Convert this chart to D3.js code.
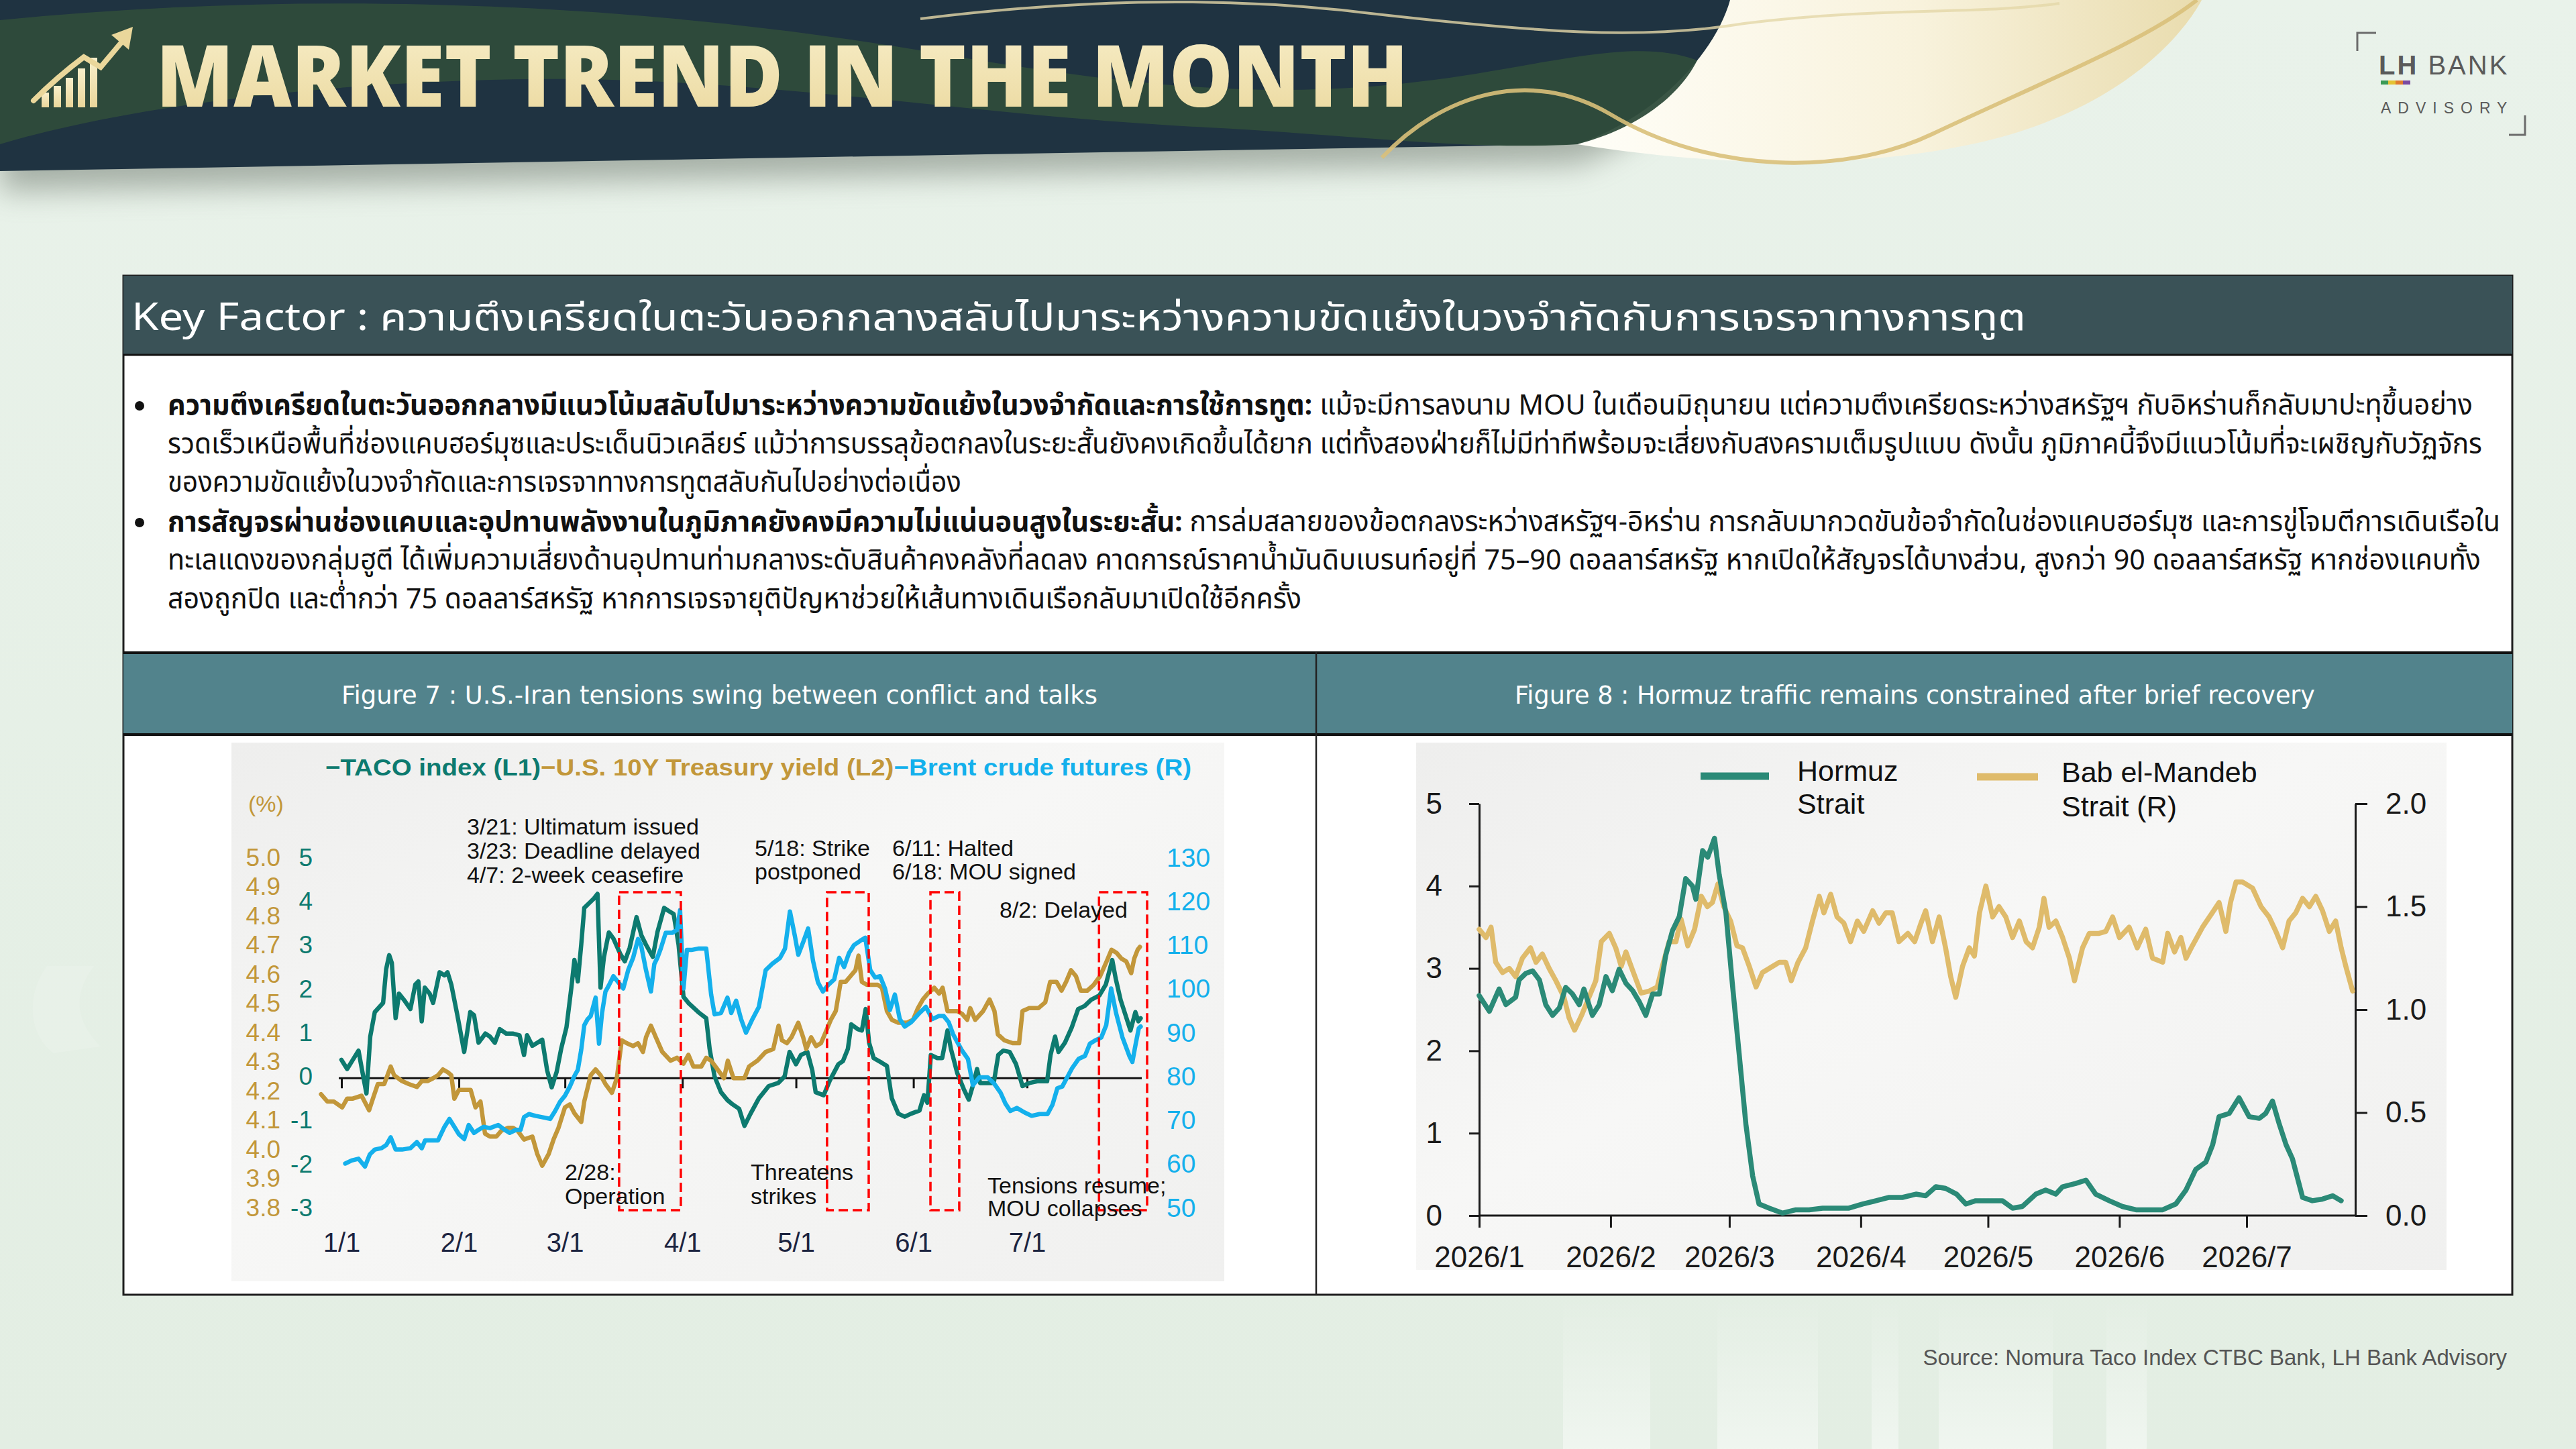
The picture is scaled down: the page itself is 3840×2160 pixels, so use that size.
<!DOCTYPE html>
<html><head><meta charset="utf-8">
<script src="https://cdn.jsdelivr.net/npm/d3@7/dist/d3.min.js"></script>
<style>
html,body{margin:0;padding:0;background:#e7f0e7;overflow:hidden;}
svg{display:block;}
</style></head><body>
<svg id="c" width="3840" height="2160"></svg>
<script>
// ---------------- DATA ----------------
// Figure 7 (day offsets from 2026-01-01)
const fig7MonthLabels = ["1/1","2/1","3/1","4/1","5/1","6/1","7/1"];
const l1Ticks = [5,4,3,2,1,0,-1,-2,-3];
const l2Ticks = [5.0,4.9,4.8,4.7,4.6,4.5,4.4,4.3,4.2,4.1,4.0,3.9,3.8];
const rTicks = [130,120,110,100,90,80,70,60,50];

const tacoDay = [0,1.5,3,4.5,5.3,6.6,7.6,8.8,11,11.8,12.6,13.3,14.3,15.2,16.5,18.2,19.5,20.3,21.2,22,23.3,24.2,25.9,27.2,28,29,30.6,32.4,34,35,36.2,38,39.2,40.5,41.8,43.5,45.2,47,48.2,49,50.4,51.7,53,54.3,55.5,56.8,58,59.4,60.7,61.5,62.4,63.3,64.1,65.4,66.7,67.6,68.4,69.3,70.6,71.8,73.6,74.8,76.1,77.9,79.2,80.4,82.2,83.4,85.2,86.4,87.7,89,90.3,91.6,94.2,96.3,97.2,98.5,100.2,101.9,103.3,105,106.4,108,110.2,112.8,115.3,117,118.3,120,121.3,123,124.3,125.2,127.3,129,131.2,132.4,133.7,134.6,136.3,137.4,138.4,139.3,140.5,142.7,144,145.3,147,148.7,150.4,152.6,153.8,154.7,155.6,157.3,158.6,160,160.9,162.6,164.3,165.6,166.9,167.8,168.6,170.4,172.2,173.4,174.7,176.4,178.1,179.8,181.6,183.7,186.3,187.2,188.4,189.3,191,192.8,194.5,196.2,197.9,200.1,201.8,203.5,204.4,205.7,207,208.3,209.6,210.4,211];
const tacoVal = [0.42,0.21,0.42,0.63,0.25,-0.35,0.95,1.51,1.72,2.49,2.81,2.63,1.37,1.93,1.79,1.58,2.14,2.21,1.30,2.07,1.93,1.72,2.42,2.35,2.42,2.14,1.44,0.60,1.51,1.44,0.81,1.02,0.95,0.81,1.12,1.02,1.02,0.98,0.53,0.98,0.74,0.81,0.88,0.18,-0.21,0.14,0.67,1.16,2.07,2.70,2.21,3.05,3.89,4.00,4.11,4.21,2.07,2.77,3.33,3.19,2.84,2.67,2.98,3.68,3.26,3.05,2.77,3.33,3.89,3.82,3.75,3.05,1.86,1.72,1.51,1.37,0.67,0.04,-0.32,-0.50,-0.60,-0.70,-1.09,-0.81,-0.46,-0.18,-0.11,0.04,0.60,0.32,0.53,0.60,0.18,-0.32,-0.39,-0.04,0.32,0.39,0.67,1.23,1.12,1.09,1.58,0.81,0.46,0.35,0.28,-0.46,-0.81,-0.88,-0.81,-0.74,-0.39,-0.56,0.53,0.46,0.46,1.09,0.67,0.11,-0.25,-0.49,-0.11,0.21,-0.11,-0.11,-0.11,0.53,0.63,0.60,0.32,-0.18,-0.11,-0.07,-0.07,0.53,0.95,0.60,0.81,1.16,1.58,1.65,1.79,1.89,2.14,2.70,2.28,1.79,1.44,1.09,1.51,1.30,1.37];

const yieldDay = [-5.4,-3.7,-2,0.2,1.5,3,5.3,7.3,8.3,9.6,11.3,13,13.9,16,17.8,19.9,21.2,22.7,24.2,25.5,26.8,28.1,29,29.8,31,32.8,34.1,35.4,36.7,37.9,39.2,40.9,42.2,44,45.3,46.5,48.2,50.4,51.7,53,54.7,56,57.3,59,60.3,61.5,63.3,64.1,65.8,67.1,68.4,69.7,71.4,72.7,74,75.3,77,78.3,79.6,80.4,81.7,83,84.7,86.9,88.6,90.3,91.6,92.9,95,96.3,97.6,99.3,101,102,103.5,106.4,107.6,109.8,112,114,115.4,116.3,117.6,118.8,120.6,121.9,122.7,124,125.3,126.6,127.9,129.2,130.5,131.8,133.1,134.4,135.7,136.5,137.4,138.7,140.4,141.6,142.7,144,145.3,147,149.2,150.9,152.2,153.5,154.8,156.5,157.8,158.7,160,161.3,162.6,163.9,165.2,166,167.3,169.4,171.1,172.4,173.3,175,177.2,178.9,179.8,181.5,184,185.8,187.1,188.8,190.1,191.3,192.6,193.9,195.2,196.9,198.6,200.3,202,203.3,204.6,205.9,207.2,208.5,209.3,210.2,210.8];
const yieldVal = [4.195,4.17,4.17,4.15,4.18,4.18,4.19,4.14,4.18,4.23,4.23,4.29,4.26,4.24,4.23,4.22,4.24,4.24,4.25,4.26,4.28,4.27,4.26,4.18,4.21,4.21,4.21,4.15,4.17,4.06,4.05,4.05,4.07,4.08,4.08,4.07,4.04,4.05,3.99,3.95,3.99,4.04,4.08,4.15,4.16,4.13,4.10,4.17,4.26,4.28,4.26,4.23,4.20,4.25,4.38,4.37,4.36,4.37,4.34,4.39,4.43,4.39,4.34,4.31,4.32,4.30,4.33,4.29,4.29,4.32,4.31,4.28,4.25,4.31,4.25,4.25,4.29,4.31,4.34,4.35,4.43,4.38,4.37,4.39,4.44,4.39,4.35,4.39,4.36,4.37,4.41,4.45,4.48,4.58,4.58,4.60,4.62,4.67,4.58,4.57,4.57,4.57,4.56,4.48,4.45,4.44,4.44,4.45,4.49,4.52,4.54,4.56,4.54,4.56,4.48,4.48,4.48,4.47,4.45,4.49,4.45,4.48,4.52,4.48,4.40,4.38,4.37,4.37,4.48,4.49,4.49,4.51,4.58,4.58,4.55,4.58,4.62,4.60,4.55,4.55,4.57,4.60,4.65,4.69,4.68,4.66,4.65,4.61,4.66,4.69,4.70];

const brentDay = [1,2.7,4.5,6.2,7.5,8.8,10.5,11.8,13,14.3,16,18.2,19.9,21.2,22.1,23.8,25.5,27.2,28.5,29.8,31,32.4,33.6,35,36.2,37.5,39.2,41.4,43.1,44.4,46.1,47.3,48.2,49.5,51.2,53,55.1,56.4,57.7,59,60.3,61.5,62.4,63.3,64.1,65,65.8,67.1,68,68.8,69.7,70.6,71.8,73.1,74.4,75.7,77,78.3,79.1,80.4,81.7,82.6,83.4,84.3,85.6,87.3,88.6,89.4,90.3,91.2,92.4,94.2,96.3,97.6,98.5,100.2,101.9,102.9,104.2,105.5,106.8,108.5,110.2,112,113.7,115.8,117.1,118.4,119.7,120.6,121.9,123.2,124.5,125.8,127.1,128.4,130.1,131.4,132.7,134,135.3,137,138.3,139.6,140.9,142.2,143.5,144.8,146.1,147.4,148.7,150.4,152.6,154.3,156,157.7,159,160.3,161.5,163.7,165.4,166.7,168.4,170.6,172.3,174,175.3,176.6,178.3,180.5,182.2,184.3,186.4,187.7,189,190.3,191.6,192.9,194.6,196.3,197.6,198.9,200.6,201.9,203.2,204.5,206.2,208,208.8,209.7,210.5,211];
const brentVal = [60.5,61.2,61.6,59.8,62.6,63.7,64.0,64.7,66.5,63.7,63.7,64.0,65.4,64.0,65.8,65.8,65.8,68.9,70.7,68.9,67.2,66.1,69.3,67.5,68.2,68.9,68.6,69.3,68.2,67.5,68.2,68.2,71.1,71.8,71.4,71.1,70.7,72.5,74.6,76.0,78.1,80.5,81.9,86.5,92.1,93.5,94.2,98.4,87.9,94.9,99.8,101.2,103.3,101.9,100.5,104.7,107.5,111.8,110.4,104.7,99.8,106.1,107.5,109.6,113.2,113.2,113.9,118.4,100.5,109.3,109.3,109.6,109.6,99.1,94.6,94.9,98.4,94.9,97.7,93.5,90.4,93.5,96.3,104.7,106.1,107.5,109.6,118.1,112.5,108.2,111.1,114.2,106.8,101.9,99.8,101.2,102.6,107.5,105.4,108.6,110.4,111.4,112.1,104.7,103.0,103.3,100.5,95.6,99.1,93.5,91.8,92.8,94.9,96.3,93.5,94.2,94.2,92.8,90.0,86.5,84.4,78.4,80.2,80.2,78.8,76.7,74.2,72.5,73.2,72.1,71.4,71.8,71.8,73.9,77.7,78.1,80.2,82.3,84.4,85.1,87.9,88.6,89.3,92.1,100.5,94.9,89.3,85.1,83.7,87.9,91.4,91.8];

// highlighted periods (day offsets)
const boxStart = [73.3,128.2,155.5,200];
const boxEnd = [89.6,139.2,163.1,212.7];

// Figure 8
const fig8MonthLabels = ["2026/1","2026/2","2026/3","2026/4","2026/5","2026/6","2026/7"];
const hormuzTicks = [0,1,2,3,4,5];
const babTicks = [0,0.5,1.0,1.5,2.0];
const hormuzDay = [0,2.4,4.7,6.3,8.6,9.4,11,12.6,14.2,15.7,17.3,18.9,20.4,22,23.6,24.7,26.7,28.3,29.9,31.4,33,34.6,36.2,37.7,39.3,40.9,42.5,44,45.6,47.2,48.7,50.3,51.1,52.7,53.9,55.5,56.6,58.2,59.7,61.3,62.9,64.5,66,68.4,71.5,74.7,77.8,81,84,87.2,90.4,93.6,96.7,99.8,103,105.3,107.7,110,112.6,114.8,117.1,120.3,123.4,125.8,128.1,131.3,133.6,136,137.6,140.7,143.1,145.4,148.6,151.7,154.9,158,161.2,164.3,166.7,169,171.4,173,174.5,176.9,179.2,181.6,184,185.5,187.1,188.7,190.3,191.8,194.2,196.5,198.9,201.3,203.3];
const hormuzVal = [2.67,2.48,2.75,2.56,2.65,2.86,2.94,2.97,2.86,2.56,2.43,2.52,2.77,2.69,2.56,2.75,2.43,2.56,2.90,2.73,2.99,2.82,2.73,2.60,2.43,2.69,2.69,3.16,3.46,3.63,4.09,4.00,3.84,4.43,4.35,4.58,4.14,3.67,2.82,1.97,1.11,0.48,0.14,0.09,0.03,0.07,0.07,0.09,0.09,0.09,0.14,0.18,0.22,0.22,0.26,0.24,0.35,0.33,0.26,0.14,0.18,0.18,0.18,0.09,0.11,0.26,0.31,0.26,0.35,0.39,0.43,0.26,0.18,0.11,0.07,0.07,0.07,0.14,0.31,0.56,0.65,0.86,1.20,1.24,1.43,1.20,1.18,1.24,1.39,1.11,0.86,0.69,0.22,0.18,0.20,0.24,0.18];
const babDay = [0,1.6,2.8,3.9,5.5,7.1,8.6,10.2,12.1,13.4,14.9,16.5,18.1,20,21.2,22.5,24.1,25.9,27.5,28.8,30.7,32.2,33.5,34.6,36.2,38.2,40.1,42,43.2,44.8,46.4,47.6,49.2,50.8,52.4,53.8,55,56.3,57.7,59.3,60.8,62.1,63.7,65.3,66.8,69.2,70.8,72.3,73.6,75.2,77,78.6,80.2,81.3,82.9,84.4,86,87.6,89.2,90.7,92.8,94.3,95.9,97.4,99,101.1,102.7,104.2,105.3,106.9,108.5,110,111.2,112.4,114,115.6,116.8,118,119.5,121.1,122.6,124.2,125.8,127.4,129,130.5,132.1,133.2,134.4,136,137.6,139.2,140.4,142.3,143.9,146.2,147.8,149.4,151,153.3,155.2,157.2,158.8,161.2,162.4,164,165.5,166.7,168.2,170.6,172.9,174.5,176.1,177.2,178.5,180,182.4,184.4,186.3,187.9,189.5,191,192.6,194.2,195.8,197.3,198.9,200.5,202,203.3,204.4,206];
const babVal = [1.39,1.35,1.40,1.23,1.18,1.20,1.16,1.25,1.30,1.23,1.27,1.20,1.14,1.06,0.96,0.90,0.97,1.06,1.14,1.33,1.37,1.30,1.21,1.28,1.19,1.08,1.09,1.11,1.21,1.33,1.33,1.44,1.31,1.39,1.55,1.50,1.52,1.61,1.50,1.43,1.31,1.30,1.21,1.11,1.18,1.21,1.23,1.23,1.14,1.23,1.30,1.43,1.55,1.47,1.56,1.45,1.42,1.33,1.43,1.38,1.48,1.42,1.47,1.47,1.33,1.37,1.33,1.42,1.48,1.33,1.45,1.30,1.16,1.06,1.21,1.30,1.26,1.47,1.60,1.45,1.50,1.45,1.35,1.43,1.33,1.30,1.40,1.54,1.40,1.43,1.35,1.25,1.14,1.30,1.37,1.37,1.38,1.45,1.35,1.40,1.30,1.39,1.25,1.23,1.37,1.28,1.35,1.25,1.31,1.40,1.47,1.52,1.38,1.52,1.62,1.62,1.59,1.50,1.45,1.38,1.30,1.43,1.47,1.54,1.50,1.55,1.48,1.38,1.43,1.30,1.21,1.09];

// ---------------- DRAW ----------------
const svg = d3.select("#c");
const defs = svg.append("defs");
function lg(id, stops, x1, y1, x2, y2) {
  const g = defs.append("linearGradient").attr("id", id)
    .attr("x1", x1).attr("y1", y1).attr("x2", x2).attr("y2", y2);
  stops.forEach(s => g.append("stop").attr("offset", s[0]).attr("stop-color", s[1]).attr("stop-opacity", s[2] == null ? 1 : s[2]));
}
lg("bgG", [[0, "#e9f2ea"], [1, "#e3eee3"]], 0, 0, 0, 1);
lg("creamG", [[0, "#fffef8"], [0.55, "#f8f2dc"], [1, "#e9dcae"]], 0, 0, 1, 0);
lg("titleG", [[0, "#f8efcb"], [1, "#ead79b"]], 0, 0, 0, 1);
lg("chartG", [[0, "#eeeeed"], [0.45, "#f7f7f6"], [1, "#f0f0ef"]], 0, 0, 1, 1);
lg("stripeG", [[0, "#ffffff", 0], [1, "#ffffff", 0.45]], 0, 0, 0, 1);
const blur = defs.append("filter").attr("id", "sh").attr("x", "-10%").attr("y", "-50%").attr("width", "120%").attr("height", "200%");
blur.append("feGaussianBlur").attr("stdDeviation", 22);

const FONT = "'Liberation Sans', Arial, Helvetica, sans-serif";
const THAI = "'Noto Sans Thai','Noto Sans Thai UI','Noto Looped Thai','Loma','Garuda','Waree','Tlwg Typo','DejaVu Sans','Noto Sans',sans-serif";

// background
svg.append("rect").attr("width", 3840).attr("height", 2160).attr("fill", "url(#bgG)");
[[2330, 130], [2560, 150], [2790, 40], [2890, 170], [3140, 60]].forEach(s =>
  svg.append("rect").attr("x", s[0]).attr("y", 1935).attr("width", s[1]).attr("height", 225).attr("fill", "url(#stripeG)"));
svg.append("path").attr("d", "M70,1440 C40,1480 40,1540 80,1570 L150,1560 C110,1520 110,1480 140,1440 Z").attr("fill", "#ffffff").attr("opacity", 0.12);

// header band
const bandD = "M0,0 H2579 C2560,70 2480,170 2351,215 L0,255 Z";
svg.append("path").attr("d", bandD).attr("fill", "#6f7a70").attr("opacity", 0.55).attr("transform", "translate(0,30)").attr("filter", "url(#sh)");
svg.append("path").attr("d", "M2351,215 C2480,170 2550,80 2579,0 L3282,0 C3250,60 3150,170 2939,215 C2800,245 2600,255 2351,215 Z").attr("fill", "url(#creamG)");
svg.append("path").attr("d", bandD).attr("fill", "#1f3341");
svg.append("path").attr("d", "M0,30 C500,-20 1000,10 1400,80 C1750,140 1950,150 2200,110 C2350,85 2450,60 2530,90 C2500,150 2430,195 2351,215 C2200,225 2000,200 1800,190 C1400,170 1100,105 700,120 C400,130 150,170 0,215 Z")
  .attr("fill", "#2f4c3b").attr("opacity", 0.95);
svg.append("path").attr("d", "M1372,28 C1600,0 1800,-5 2000,15 C2300,50 2450,60 2600,35 C2800,10 2950,22 3070,5").attr("fill", "none").attr("stroke", "#e3d7a8").attr("stroke-width", 4).attr("opacity", 0.8);
svg.append("path").attr("d", "M2060,235 C2150,140 2280,100 2400,170 C2550,260 2750,262 2880,200 C3050,120 3200,60 3275,0").attr("fill", "none").attr("stroke", "#d9c07a").attr("stroke-width", 6).attr("opacity", 0.9);

// icon
const icon = svg.append("g").attr("fill", "url(#titleG)");
[[62, 22], [80, 32], [98, 44], [116, 58], [134, 74]].forEach(b => icon.append("rect").attr("x", b[0]).attr("y", 160 - b[1]).attr("width", 11).attr("height", b[1]));
svg.append("path").attr("d", "M50,150 C80,120 105,100 125,85 L150,100 L182,62").attr("fill", "none").attr("stroke", "#ead79b").attr("stroke-width", 8).attr("stroke-linecap", "round");
svg.append("path").attr("d", "M166,52 L198,40 L192,74 Z").attr("fill", "#ead79b");

svg.append("text").attr("x", 233).attr("y", 159).attr("font-family", "'Open Sans','Noto Sans',sans-serif").attr("font-weight", 800)
  .attr("font-size", 128).attr("fill", "url(#titleG)").attr("textLength", 1866).attr("lengthAdjust", "spacingAndGlyphs")
  .text("MARKET TREND IN THE MONTH");

// logo
const logo = svg.append("g");
logo.append("path").attr("d", "M3514,76 V49 H3542").attr("fill", "none").attr("stroke", "#6b6b6b").attr("stroke-width", 3);
logo.append("path").attr("d", "M3764,172 V201 H3740").attr("fill", "none").attr("stroke", "#6b6b6b").attr("stroke-width", 3);
logo.append("text").attr("x", 3546).attr("y", 111).attr("font-family", FONT).attr("font-size", 40).attr("fill", "#5a5a5a").attr("letter-spacing", 3)
  .call(t => { t.append("tspan").attr("font-weight", 700).text("LH"); t.append("tspan").text(" BANK"); });
["#3a9a55", "#e4c233", "#e07b2d", "#7a4aa0"].forEach((c, i) => logo.append("rect").attr("x", 3549 + i * 11).attr("y", 120).attr("width", 11).attr("height", 6).attr("fill", c));
logo.append("text").attr("x", 3549).attr("y", 169).attr("font-family", FONT).attr("font-size", 23).attr("fill", "#5a5a5a").attr("letter-spacing", 10).text("ADVISORY");

// key factor box
svg.append("rect").attr("x", 184).attr("y", 411).attr("width", 3561).attr("height", 1519).attr("fill", "#ffffff").attr("stroke", "#1e1e1e").attr("stroke-width", 3);
svg.append("rect").attr("x", 184).attr("y", 411).attr("width", 3561).attr("height", 118).attr("fill", "#3a5257");
svg.append("line").attr("x1", 184).attr("x2", 3745).attr("y1", 529).attr("y2", 529).attr("stroke", "#111").attr("stroke-width", 3);
svg.append("text").attr("x", 196).attr("y", 492).attr("font-family", THAI).attr("font-size", 56).attr("fill", "#ffffff")
  .attr("textLength", 2824).attr("lengthAdjust", "spacingAndGlyphs")
  .text("Key Factor : ความตึงเครียดในตะวันออกกลางสลับไปมาระหว่างความขัดแย้งในวงจำกัดกับการเจรจาทางการทูต");

const paraLines = [
  [["ความตึงเครียดในตะวันออกกลางมีแนวโน้มสลับไปมาระหว่างความขัดแย้งในวงจำกัดและการใช้การทูต:", true], [" แม้จะมีการลงนาม MOU ในเดือนมิถุนายน แต่ความตึงเครียดระหว่างสหรัฐฯ กับอิหร่านก็กลับมาปะทุขึ้นอย่าง", false]],
  [["รวดเร็วเหนือพื้นที่ช่องแคบฮอร์มุซและประเด็นนิวเคลียร์ แม้ว่าการบรรลุข้อตกลงในระยะสั้นยังคงเกิดขึ้นได้ยาก แต่ทั้งสองฝ่ายก็ไม่มีท่าทีพร้อมจะเสี่ยงกับสงครามเต็มรูปแบบ ดังนั้น ภูมิภาคนี้จึงมีแนวโน้มที่จะเผชิญกับวัฏจักร", false]],
  [["ของความขัดแย้งในวงจำกัดและการเจรจาทางการทูตสลับกันไปอย่างต่อเนื่อง", false]],
  [["การสัญจรผ่านช่องแคบและอุปทานพลังงานในภูมิภาคยังคงมีความไม่แน่นอนสูงในระยะสั้น:", true], [" การล่มสลายของข้อตกลงระหว่างสหรัฐฯ-อิหร่าน การกลับมากวดขันข้อจำกัดในช่องแคบฮอร์มุซ และการขู่โจมตีการเดินเรือใน", false]],
  [["ทะเลแดงของกลุ่มฮูตี ได้เพิ่มความเสี่ยงด้านอุปทานท่ามกลางระดับสินค้าคงคลังที่ลดลง คาดการณ์ราคาน้ำมันดิบเบรนท์อยู่ที่ 75–90 ดอลลาร์สหรัฐ หากเปิดให้สัญจรได้บางส่วน, สูงกว่า 90 ดอลลาร์สหรัฐ หากช่องแคบทั้ง", false]],
  [["สองถูกปิด และต่ำกว่า 75 ดอลลาร์สหรัฐ หากการเจรจายุติปัญหาช่วยให้เส้นทางเดินเรือกลับมาเปิดใช้อีกครั้ง", false]]
];
const lineEnds = [3686, 3700, 1433, 3727, 3698, 1940];
const lineCY = [605, 663, 720, 779, 836, 894];
paraLines.forEach((segs, i) => {
  const t = svg.append("text").attr("x", 250).attr("y", lineCY[i] + 13).attr("font-family", THAI).attr("font-size", 42).attr("fill", "#111")
    .attr("textLength", lineEnds[i] - 250).attr("lengthAdjust", "spacingAndGlyphs");
  segs.forEach(s => t.append("tspan").attr("font-weight", s[1] ? 700 : 400).text(s[0]));
});
[605, 779].forEach(cy => svg.append("circle").attr("cx", 208).attr("cy", cy).attr("r", 7).attr("fill", "#111"));

// figure header bar
svg.append("rect").attr("x", 184).attr("y", 972).attr("width", 3561).attr("height", 123).attr("fill", "#52838c");
svg.append("line").attr("x1", 184).attr("x2", 3745).attr("y1", 973).attr("y2", 973).attr("stroke", "#111").attr("stroke-width", 4);
svg.append("line").attr("x1", 184).attr("x2", 3745).attr("y1", 1095).attr("y2", 1095).attr("stroke", "#111").attr("stroke-width", 4);
svg.append("line").attr("x1", 1962).attr("x2", 1962).attr("y1", 972).attr("y2", 1930).attr("stroke", "#222").attr("stroke-width", 2.5);
svg.append("text").attr("x", 509).attr("y", 1036).attr("dy", "0.35em").attr("font-family", "'DejaVu Sans', Verdana, sans-serif").attr("font-size", 37).attr("fill", "#fff")
  .attr("textLength", 1127).attr("lengthAdjust", "spacingAndGlyphs")
  .text("Figure 7 : U.S.-Iran tensions swing between conflict and talks");
svg.append("text").attr("x", 2258).attr("y", 1036).attr("dy", "0.35em").attr("font-family", "'DejaVu Sans', Verdana, sans-serif").attr("font-size", 37).attr("fill", "#fff")
  .attr("textLength", 1193).attr("lengthAdjust", "spacingAndGlyphs")
  .text("Figure 8 : Hormuz traffic remains constrained after brief recovery");

// chart backgrounds
svg.append("rect").attr("x", 345).attr("y", 1107).attr("width", 1480).attr("height", 803).attr("fill", "url(#chartG)");
svg.append("rect").attr("x", 2111).attr("y", 1107).attr("width", 1536).attr("height", 786).attr("fill", "url(#chartG)");

const day0 = new Date(2026, 0, 1);
const toDate = d => new Date(day0.getTime() + d * 86400000);
const zip = (a, b) => a.map((d, i) => [d, b[i]]);

// ---------- Figure 7 ----------
const C_TACO = "#0d7a6f", C_YIELD = "#c2973a", C_BRENT = "#14b0ec";
const x7 = d3.scaleTime().domain([new Date(2026, 0, 1), new Date(2026, 6, 1)]).range([509, 1531]);
const yL1 = d3.scaleLinear().domain([-3, 5]).range([1803, 1281]);
const yL2 = d3.scaleLinear().domain([3.8, 5.0]).range([1803, 1281]);
const yR = d3.scaleLinear().domain([50, 130]).range([1803, 1281]);
const f7 = svg.append("g").attr("font-family", FONT);

// legend
const leg = f7.append("text").attr("x", 485).attr("y", 1144).attr("dy", "0.35em").attr("font-size", 35).attr("font-weight", 700)
  .attr("textLength", 1291).attr("lengthAdjust", "spacingAndGlyphs");
leg.append("tspan").attr("fill", C_TACO).text("−TACO index (L1)");
leg.append("tspan").attr("fill", C_YIELD).text("−U.S. 10Y Treasury yield (L2)");
leg.append("tspan").attr("fill", C_BRENT).text("−Brent crude futures (R)");
f7.append("text").attr("x", 370).attr("y", 1198).attr("dy", "0.35em").attr("font-size", 34).attr("fill", C_YIELD).text("(%)");

// axis labels
f7.selectAll(".l2").data(l2Ticks).join("text").attr("x", 418).attr("y", d => yL2(d) - 3).attr("dy", "0.35em").attr("text-anchor", "end")
  .attr("font-size", 37).attr("fill", C_YIELD).text(d => d.toFixed(1));
f7.selectAll(".l1").data(l1Ticks).join("text").attr("x", 466).attr("y", d => yL1(d) - 3).attr("dy", "0.35em").attr("text-anchor", "end")
  .attr("font-size", 37).attr("fill", C_TACO).text(d => d);
f7.selectAll(".rr").data(rTicks).join("text").attr("x", 1739).attr("y", d => yR(d) - 3).attr("dy", "0.35em").attr("text-anchor", "start")
  .attr("font-size", 39).attr("fill", C_BRENT).text(d => d);

// zero line + month ticks
f7.append("line").attr("x1", 505).attr("x2", 1702).attr("y1", yL1(0)).attr("y2", yL1(0)).attr("stroke", "#111").attr("stroke-width", 3);
const months7 = d3.timeMonth.range(new Date(2026, 0, 1), new Date(2026, 6, 2));
const ax7 = f7.append("g").attr("transform", `translate(0,${yL1(0)})`)
  .call(d3.axisBottom(x7).tickValues(months7).tickSize(15).tickFormat((d, i) => fig7MonthLabels[i]));
ax7.select(".domain").remove();
ax7.selectAll(".tick line").attr("stroke", "#111").attr("stroke-width", 3);
ax7.selectAll(".tick text").attr("y", 1852 - yL1(0)).attr("dy", "0.35em").attr("font-size", 40).attr("fill", "#1c2440").attr("font-family", FONT);

// lines
const line7 = (y) => d3.line().x(d => x7(toDate(d[0]))).y(d => y(d[1]));
const drawL = (g, data, gen, color, w) => g.append("path").datum(data).attr("d", gen).attr("fill", "none").attr("stroke", color)
  .attr("stroke-width", w).attr("stroke-linejoin", "round").attr("stroke-linecap", "round");
drawL(f7, zip(tacoDay, tacoVal), line7(yL1), C_TACO, 6.5);
drawL(f7, zip(yieldDay, yieldVal), line7(yL2), C_YIELD, 6.5);
drawL(f7, zip(brentDay, brentVal), line7(yR), C_BRENT, 6.5);

// highlight boxes
boxStart.forEach((s, i) => f7.append("rect").attr("x", x7(toDate(s))).attr("y", 1330)
  .attr("width", x7(toDate(boxEnd[i])) - x7(toDate(s))).attr("height", 474)
  .attr("fill", "none").attr("stroke", "#ff0000").attr("stroke-width", 3.5).attr("stroke-dasharray", "14 7"));

// annotations
const ann = [
  [696, 1232, "3/21: Ultimatum issued"], [696, 1268, "3/23: Deadline delayed"], [696, 1304, "4/7: 2-week ceasefire"],
  [1125, 1264, "5/18: Strike"], [1125, 1299, "postponed"],
  [1330, 1264, "6/11: Halted"], [1330, 1299, "6/18: MOU signed"],
  [1490, 1356, "8/2: Delayed"],
  [842, 1747, "2/28:"], [842, 1783, "Operation"],
  [1119, 1747, "Threatens"], [1119, 1783, "strikes"],
  [1472, 1767, "Tensions resume;"], [1472, 1801, "MOU collapses"]
];
ann.forEach(a => f7.append("text").attr("x", a[0]).attr("y", a[1]).attr("dy", "0.35em").attr("font-size", 34).attr("fill", "#111").text(a[2]));

// ---------- Figure 8 ----------
const C_H = "#2b8a77", C_B = "#dfbb6b";
const x8 = d3.scaleTime().domain([new Date(2026, 0, 1), new Date(2026, 6, 1)]).range([2205, 3349]);
const yH = d3.scaleLinear().domain([0, 5]).range([1812, 1198]);
const yB = d3.scaleLinear().domain([0, 2]).range([1812, 1198]);
const f8 = svg.append("g").attr("font-family", FONT);
const styleAx = g => {
  g.selectAll("text").attr("font-size", 44).attr("fill", "#1a1a1a").attr("font-family", FONT);
  g.selectAll("line").attr("stroke", "#1a1a1a").attr("stroke-width", 3);
  g.selectAll(".domain").attr("stroke", "#1a1a1a").attr("stroke-width", 3);
};
f8.append("g").attr("transform", "translate(2205,0)")
  .call(d3.axisLeft(yH).tickValues(hormuzTicks).tickSize(15).tickSizeOuter(0).tickPadding(40).tickFormat(d3.format("d"))).call(styleAx);
f8.append("g").attr("transform", "translate(3511,0)")
  .call(d3.axisRight(yB).tickValues(babTicks).tickSize(18).tickSizeOuter(0).tickPadding(27).tickFormat(d3.format(".1f"))).call(styleAx);
const months8 = d3.timeMonth.range(new Date(2026, 0, 1), new Date(2026, 6, 2));
const ax8 = f8.append("g").attr("transform", "translate(0,1812)")
  .call(d3.axisBottom(x8).tickValues(months8).tickSize(18).tickPadding(28).tickFormat((d, i) => fig8MonthLabels[i])).call(styleAx);
ax8.select(".domain").remove();
f8.append("line").attr("x1", 2205).attr("x2", 3511).attr("y1", 1812).attr("y2", 1812).attr("stroke", "#1a1a1a").attr("stroke-width", 3);

const line8 = (y) => d3.line().x(d => x8(toDate(d[0]))).y(d => y(d[1]));
drawL(f8, zip(babDay, babVal), line8(yB), C_B, 7.5);
drawL(f8, zip(hormuzDay, hormuzVal), line8(yH), C_H, 7.5);

// legend
f8.append("line").attr("x1", 2535).attr("x2", 2637).attr("y1", 1157).attr("y2", 1157).attr("stroke", C_H).attr("stroke-width", 11);
f8.append("line").attr("x1", 2947).attr("x2", 3038).attr("y1", 1158).attr("y2", 1158).attr("stroke", C_B).attr("stroke-width", 11);
[[2679, 1149, "Hormuz"], [2679, 1198, "Strait"], [3073, 1151, "Bab el-Mandeb"], [3073, 1202, "Strait (R)"]].forEach(a =>
  f8.append("text").attr("x", a[0]).attr("y", a[1]).attr("dy", "0.35em").attr("font-size", 43).attr("fill", "#111").text(a[2]));

// source
svg.append("text").attr("x", 3737).attr("y", 2023).attr("dy", "0.35em").attr("text-anchor", "end").attr("font-family", FONT)
  .attr("font-size", 33).attr("fill", "#555").text("Source: Nomura Taco Index CTBC Bank, LH Bank Advisory");
</script>
</body></html>
